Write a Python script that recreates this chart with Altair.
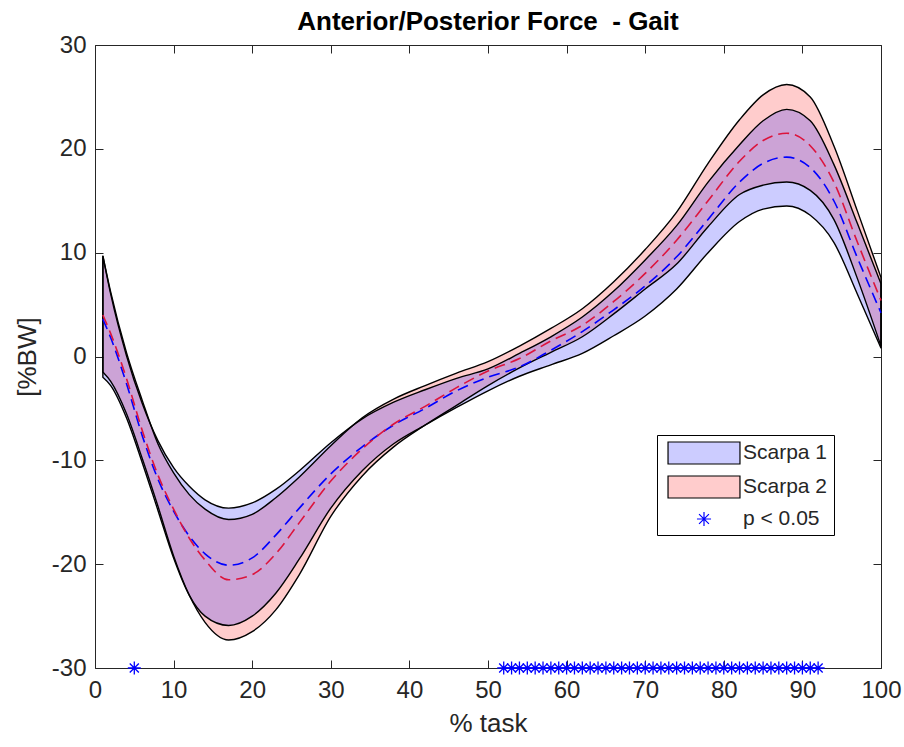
import altair as alt
import pandas as pd

# ---------------- data ----------------
x_pct = [1, 2, 4, 6, 8, 10, 12, 14, 17, 20, 23, 26, 30, 34, 38, 42, 46, 50, 54, 58,
         62, 66, 70, 74, 78, 82, 85, 88, 91, 94, 97, 100]

s1_upper = [9.7, 6.0, 0.1, -4.5, -8.1, -10.7, -12.5, -13.8, -14.6, -14.1,
            -12.8, -11.0, -8.3, -6.0, -4.4, -3.2, -2.1, -1.2, 0.3, 1.9,
            3.8, 6.3, 9.3, 12.6, 16.8, 20.4, 22.7, 23.8, 22.7, 18.5, 12.8, 7.0]
s1_lower = [-2.0, -2.8, -5.9, -10.2, -14.8, -19.4, -23.0, -25.0, -25.9, -25.0,
            -22.8, -19.5, -14.6, -11.0, -8.4, -6.6, -4.9, -3.3, -1.9, -0.8,
            0.3, 2.0, 3.9, 6.5, 10.0, 13.0, 14.2, 14.5, 13.6, 11.0, 6.0, 0.8]
s1_mean = [3.6, 1.8, -2.6, -7.6, -11.8, -14.9, -17.3, -19.0, -20.1, -19.4,
           -17.2, -14.6, -11.3, -8.7, -6.6, -5.0, -3.3, -2.0, -1.0, 0.6,
           2.4, 4.5, 6.8, 9.6, 13.2, 16.8, 18.6, 19.2, 18.2, 15.0, 9.5, 4.2]

s2_upper = [9.7, 6.2, 0.4, -4.2, -8.4, -11.2, -13.3, -14.7, -15.7, -15.2,
            -13.6, -11.6, -8.6, -5.9, -4.1, -2.8, -1.6, -0.5, 1.0, 2.7,
            4.6, 7.2, 10.3, 13.9, 18.6, 22.8, 25.2, 26.2, 25.0, 20.3, 14.0, 7.6]
s2_lower = [-1.5, -2.4, -5.5, -9.8, -14.4, -19.2, -23.0, -25.6, -27.3, -26.5,
            -24.4, -21.0, -15.4, -11.5, -8.7, -6.6, -4.7, -2.8, -1.1, 0.4,
            1.9, 4.1, 6.5, 8.9, 12.5, 15.6, 16.5, 16.8, 16.0, 13.2, 7.5, 1.0]
s2_mean = [4.0, 2.2, -2.1, -7.1, -11.4, -14.7, -17.5, -19.6, -21.5, -21.0,
           -19.0, -16.0, -12.0, -8.9, -6.5, -4.8, -3.0, -1.4, -0.2, 1.5,
           3.0, 5.3, 8.0, 11.2, 15.0, 18.8, 20.8, 21.5, 20.3, 16.8, 11.0, 5.4]

sig_x = [5, 52, 53, 54, 55, 56, 57, 58, 59, 60, 61, 62, 63, 64, 65, 66, 67, 68, 69,
         70, 71, 72, 73, 74, 75, 76, 77, 78, 79, 80, 81, 82, 83, 84, 85, 86, 87,
         88, 89, 90, 91, 92]
sig_level = -30

legend_names = ["Scarpa 1", "Scarpa 2", "p < 0.05"]

x_ticks = [0, 10, 20, 30, 40, 50, 60, 70, 80, 90, 100]
y_ticks = [-30, -20, -10, 0, 10, 20, 30]

# ---------------- layout ----------------
W, H = 786, 623
FONT = "Liberation Sans"
AX = "#262626"
LABEL_EXPR = "'' + datum.value"

df = pd.DataFrame({
    "x": x_pct,
    "s1_upper": s1_upper, "s1_lower": s1_lower, "s1_mean": s1_mean,
    "s2_upper": s2_upper, "s2_lower": s2_lower, "s2_mean": s2_mean,
})
sig_df = pd.DataFrame({"x": sig_x, "y": [sig_level] * len(sig_x)})
leg_df = pd.DataFrame({"series": legend_names})

xs = alt.Scale(domain=[0, 100], nice=False, zero=False)
ys = alt.Scale(domain=[-30, 30], nice=False, zero=False)

common_axis = dict(grid=False, domainColor=AX, tickColor=AX, domainWidth=1,
                   tickWidth=1)

ax_x_main = alt.Axis(orient="bottom", values=x_ticks, ticks=False, domain=True,
                     labelPadding=10, labelFont=FONT, labelFontSize=24,
                     labelColor=AX, labelFlush=False, labelExpr=LABEL_EXPR,
                     title="% task", titleFont=FONT,
                     titleFontSize=26, titleFontWeight="normal", titleColor=AX,
                     titlePadding=8, **common_axis)
ax_y_main = alt.Axis(orient="left", values=y_ticks, ticks=False, domain=True,
                     labelPadding=9, labelFont=FONT, labelFontSize=24,
                     labelColor=AX, labelFlush=False, labelExpr=LABEL_EXPR,
                     title="[%BW]", titleFont=FONT,
                     titleFontSize=26, titleFontWeight="normal", titleColor=AX,
                     titlePadding=11, **common_axis)
# inward ticks on bottom / left edges
ax_x_in_bottom = alt.Axis(orient="top", offset=-H, values=x_ticks, labels=False,
                          ticks=True, tickSize=8, domain=False, title=None,
                          **common_axis)
ax_y_in_left = alt.Axis(orient="right", offset=-W, values=y_ticks, labels=False,
                        ticks=True, tickSize=8, domain=False, title=None,
                        **common_axis)
# top / right edges with inward ticks
ax_x_in_top = alt.Axis(orient="bottom", offset=-H, values=x_ticks, labels=False,
                       ticks=True, tickSize=8, domain=True, title=None,
                       **common_axis)
ax_y_in_right = alt.Axis(orient="left", offset=-W, values=y_ticks, labels=False,
                         ticks=True, tickSize=8, domain=True, title=None,
                         **common_axis)

base = alt.Chart(df)

band2_fill = base.mark_area(color="#ff0000", opacity=0.2, interpolate="monotone").encode(
    x=alt.X("x:Q", scale=xs, axis=ax_x_main),
    y=alt.Y("s2_lower:Q", scale=ys, axis=ax_y_main),
    y2="s2_upper:Q",
)
band1_fill = base.mark_area(color="#0000ff", opacity=0.2, interpolate="monotone").encode(
    x=alt.X("x:Q", scale=xs, axis=ax_x_in_bottom),
    y=alt.Y("s1_lower:Q", scale=ys, axis=ax_y_in_left),
    y2="s1_upper:Q",
)
band1_edge = base.mark_area(fillOpacity=0, stroke="black", strokeWidth=1.4,
                            interpolate="monotone").encode(
    x=alt.X("x:Q", scale=xs, axis=ax_x_in_top),
    y=alt.Y("s1_lower:Q", scale=ys, axis=ax_y_in_right),
    y2="s1_upper:Q",
)
band2_edge = base.mark_area(fillOpacity=0, stroke="black", strokeWidth=1.4,
                            interpolate="monotone").encode(
    x=alt.X("x:Q", scale=xs, axis=None),
    y=alt.Y("s2_lower:Q", scale=ys, axis=None),
    y2="s2_upper:Q",
)
mean1 = base.mark_line(color="#0000ff", strokeWidth=1.6, strokeDash=[11, 6],
                       interpolate="monotone").encode(
    x=alt.X("x:Q", scale=xs, axis=None),
    y=alt.Y("s1_mean:Q", scale=ys, axis=None),
)
mean2 = base.mark_line(color="#dc143c", strokeWidth=1.6, strokeDash=[11, 6],
                       interpolate="monotone").encode(
    x=alt.X("x:Q", scale=xs, axis=None),
    y=alt.Y("s2_mean:Q", scale=ys, axis=None),
)

STAR = "M0,-1L0,1M-1,0L1,0M-0.7,-0.7L0.7,0.7M-0.7,0.7L0.7,-0.7"
stars = alt.Chart(sig_df).mark_point(shape=STAR, size=169, filled=False,
                                     color="#0000ff", strokeWidth=1.3,
                                     opacity=1).encode(
    x=alt.X("x:Q", scale=xs, axis=None),
    y=alt.Y("y:Q", scale=ys, axis=None),
)

RECT = "M-3.27,-1L3.27,-1L3.27,1L-3.27,1Z"
STAR_L = "M0,-0.64L0,0.64M-0.64,0L0.64,0M-0.45,-0.45L0.45,0.45M-0.45,0.45L0.45,-0.45"
leg = alt.Legend(title=None, orient="none", legendX=562, legendY=390,
                 strokeColor="black", fillColor="white", padding=6,
                 symbolSize=484, symbolStrokeWidth=1.2, symbolOffset=29,
                 labelOffset=27, labelFont=FONT, labelFontSize=21,
                 labelColor="#262626", rowPadding=6, symbolOpacity=1,
                 labelLimit=300)
legend_layer = alt.Chart(leg_df).mark_point(opacity=0, filled=True,
                                            strokeWidth=1.2).encode(
    x=alt.value(0), y=alt.value(0),
    fill=alt.Fill("series:N", sort=legend_names, legend=leg,
                  scale=alt.Scale(domain=legend_names,
                                  range=["#ccccff", "#ffcccc", "transparent"])),
    stroke=alt.Stroke("series:N", sort=legend_names, legend=leg,
                      scale=alt.Scale(domain=legend_names,
                                      range=["black", "black", "#0000ff"])),
    shape=alt.Shape("series:N", sort=legend_names, legend=leg,
                    scale=alt.Scale(domain=legend_names,
                                    range=[RECT, RECT, STAR_L])),
)

chart = alt.layer(
    band2_fill, band1_fill, band1_edge, band2_edge, mean1, mean2, stars,
    legend_layer,
).resolve_axis(x="independent", y="independent").resolve_scale(
    x="shared", y="shared"
).properties(
    width=W, height=H,
    autosize=alt.AutoSizeParams(type="none"),
    padding={"left": 95, "top": 45, "right": 23, "bottom": 79},
    title=alt.TitleParams("Anterior/Posterior Force \u00a0- Gait", font=FONT,
                          fontSize=26, fontWeight="bold", color="black",
                          offset=-2, anchor="middle"),
).configure_view(stroke=None).configure(background="white")

chart.save("out.html", embed_options={"renderer": "svg", "actions": False})
